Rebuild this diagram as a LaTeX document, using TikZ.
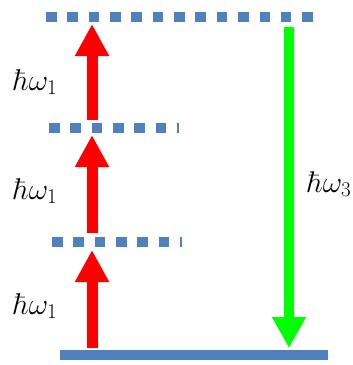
\RequirePackage{fix-cm}
\documentclass[tikz,border=0pt]{standalone}
\usepackage{amsmath}
\usetikzlibrary{arrows.meta}
\definecolor{levelblue}{HTML}{4F81BD}
\definecolor{pumpred}{HTML}{FF0000}
\definecolor{emitgreen}{HTML}{00FF00}
\tikzset{
  level/.style={levelblue, line width=10pt},
  virtual/.style={level, dash pattern=on 10.5pt off 10.85pt},
  pump/.style={pumpred, line width=11pt, -{Triangle[width=32pt,length=32pt]}},
  emit/.style={emitgreen, line width=10pt, -{Triangle[width=32pt,length=31pt]}},
  lab/.style={anchor=base west, inner sep=0pt, font=\fontsize{30}{33}\selectfont}
}
\begin{document}
\begin{tikzpicture}[x=1pt,y=-1pt]
\useasboundingbox (0,0) rectangle (353,365);
% energy levels
\coordinate (g0a) at (60,355); \coordinate (g0b) at (328,355);
\coordinate (v1a) at (52,242); \coordinate (v1b) at (182,242);
\coordinate (v2a) at (49,128); \coordinate (v2b) at (179,128);
\coordinate (v3a) at (46,17);  \coordinate (v3b) at (313,17);
\draw[level] (g0a) -- (g0b);
\draw[virtual] (v1a) -- (v1b);
\draw[virtual] (v2a) -- (v2b);
\draw[virtual] (v3a) -- (v3b);
% absorption steps
\foreach \s/\t/\b [count=\i] in {348/250/314, 233/135/199, 120/24/90}{
  \coordinate (up\i) at (92,\s); \coordinate (tip\i) at (92,\t);
  \draw[pump] (up\i) -- (tip\i);
  \node[lab] (w\i) at (13,\b) {$\hbar\omega_1$};
}
% emission
\coordinate (em0) at (289,27); \coordinate (em1) at (289,348);
\draw[emit] (em0) -- (em1);
\node[lab] (w3) at (307,192) {$\hbar\omega_3$};
\end{tikzpicture}
\end{document}
